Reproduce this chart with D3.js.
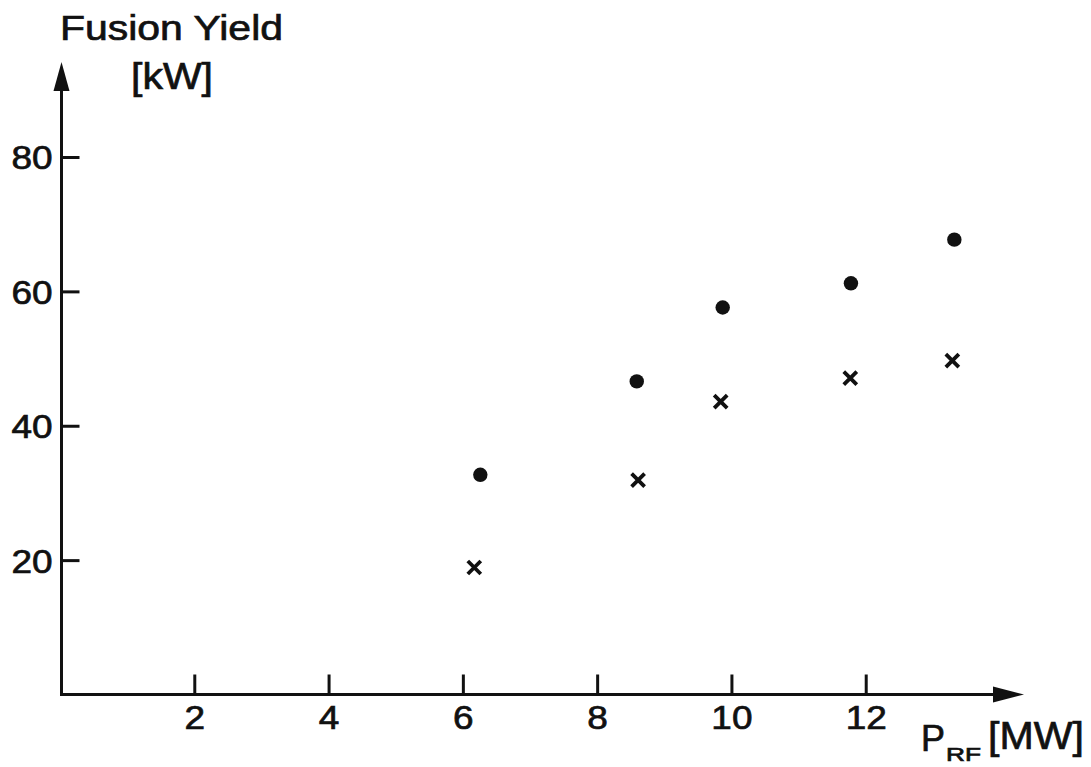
<!DOCTYPE html>
<html>
<head>
<meta charset="utf-8">
<script src="https://cdn.jsdelivr.net/npm/d3@7"></script>
<style>
  html, body { margin: 0; padding: 0; background: #fff; }
  svg { display: block; }
  text { font-family: "Liberation Sans", Arial, sans-serif; fill: #111; stroke: #111; stroke-width: 0.7px; }
</style>
</head>
<body>
<script>
// ---- data ----
const dotX   = [6.26, 8.59, 9.87, 11.78, 13.32];
const dotY   = [32.7, 46.6, 57.6, 61.2, 67.7];
const crossX = [6.17, 8.61, 9.84, 11.77, 13.29];
const crossY = [18.9, 31.9, 43.6, 47.1, 49.7];
const xTicks = [2, 4, 6, 8, 10, 12];
const yTicks = [20, 40, 60, 80];
const yTitle = ["Fusion Yield", "[kW]"];

const W = 1091, H = 767;
const svg = d3.select("body").append("svg").attr("width", W).attr("height", H);

const x = d3.scaleLinear().domain([0, 14]).range([60, 1000]);
const y = d3.scaleLinear().domain([0, 80]).range([694.5, 157]);

const ink = "#111";
const stretch = (sel, k) => sel.each(function () {
  const w = this.getComputedTextLength();
  d3.select(this).attr("textLength", w * k).attr("lengthAdjust", "spacingAndGlyphs");
});

// axes lines with arrows
const x0 = x(0) + 1.5, y0 = y(0);
svg.append("line").attr("x1", x0).attr("y1", y0 + 1.5).attr("x2", x0).attr("y2", 88)
  .attr("stroke", ink).attr("stroke-width", 3);
svg.append("path").attr("d", `M${x0},62 L${x0 - 8},91 L${x0 + 8},91 Z`).attr("fill", ink);
svg.append("line").attr("x1", x0 - 1.5).attr("y1", y0).attr("x2", 996).attr("y2", y0)
  .attr("stroke", ink).attr("stroke-width", 3);
svg.append("path").attr("d", `M1024,${y0} L993,${y0 - 8} L993,${y0 + 8} Z`).attr("fill", ink);

// y axis ticks
const gy = svg.append("g").attr("transform", `translate(${x0},0)`)
  .call(d3.axisLeft(y).tickValues(yTicks).tickSize(-18).tickPadding(9).tickFormat(d3.format("d")));
gy.select(".domain").remove();
gy.selectAll(".tick line").attr("stroke", ink).attr("stroke-width", 3);
gy.selectAll(".tick text").attr("font-size", 33).attr("font-family", "Liberation Sans, Arial, sans-serif")
  .attr("fill", ink).attr("dy", "0.36em").call(stretch, 1.12);

// x axis ticks
const gx = svg.append("g").attr("transform", `translate(0,${y0})`)
  .call(d3.axisBottom(x).tickValues(xTicks).tickSize(-20).tickPadding(11).tickFormat(d3.format("d")));
gx.select(".domain").remove();
gx.selectAll(".tick line").attr("stroke", ink).attr("stroke-width", 3);
gx.selectAll(".tick text").attr("font-size", 33).attr("font-family", "Liberation Sans, Arial, sans-serif")
  .attr("fill", ink).call(stretch, 1.12);

// y title
svg.append("text").attr("x", 60).attr("y", 40).attr("font-size", 35).text(yTitle[0])
  .attr("textLength", 223).attr("lengthAdjust", "spacingAndGlyphs");
svg.append("text").attr("x", 131).attr("y", 89).attr("font-size", 36).text(yTitle[1])
  .attr("textLength", 82).attr("lengthAdjust", "spacingAndGlyphs");

// x title: P_RF [MW]
svg.append("text").attr("x", 921).attr("y", 751).attr("font-size", 36).text("P")
  .attr("textLength", 24).attr("lengthAdjust", "spacingAndGlyphs");
svg.append("text").attr("x", 946).attr("y", 761).attr("font-size", 19).text("RF")
  .attr("textLength", 35).attr("lengthAdjust", "spacingAndGlyphs");
svg.append("text").attr("x", 988).attr("y", 749).attr("font-size", 38).text("[MW]")
  .attr("textLength", 96).attr("lengthAdjust", "spacingAndGlyphs");

// dots
svg.append("g").selectAll("circle").data(d3.zip(dotX, dotY)).join("circle")
  .attr("cx", d => x(d[0])).attr("cy", d => y(d[1])).attr("r", 7.2).attr("fill", ink);

// crosses
const s = 6.5;
svg.append("g").selectAll("path").data(d3.zip(crossX, crossY)).join("path")
  .attr("d", d => {
    const cx = x(d[0]), cy = y(d[1]);
    return `M${cx - s},${cy - s} L${cx + s},${cy + s} M${cx - s},${cy + s} L${cx + s},${cy - s}`;
  })
  .attr("stroke", ink).attr("stroke-width", 3.8).attr("fill", "none");
</script>
</body>
</html>
